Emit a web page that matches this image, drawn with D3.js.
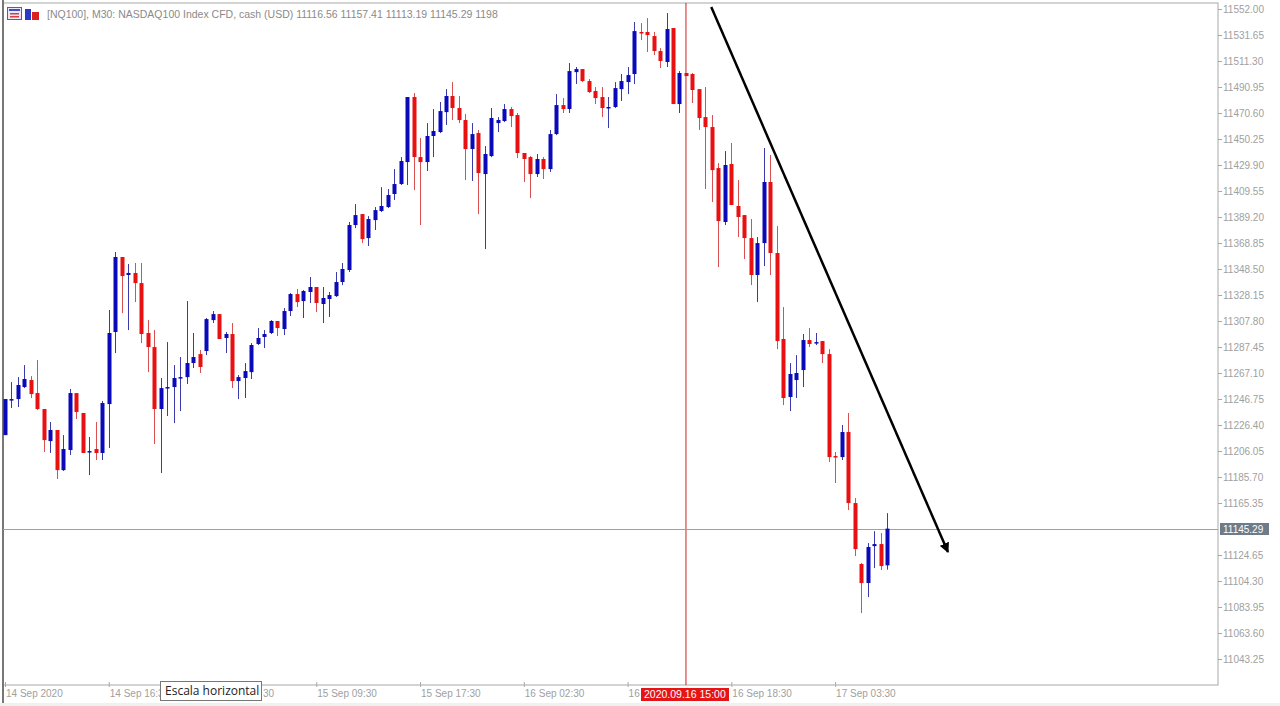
<!DOCTYPE html>
<html>
<head>
<meta charset="utf-8">
<script src="https://cdn.jsdelivr.net/npm/d3@7"></script>
<style>
  body { margin: 0; background: #fff; }
  svg { display: block; font-family: "Liberation Sans", Arial, sans-serif; }
</style>
</head>
<body>
<div id="chart"></div>
<script>
// NQ100 M30 candles (open, high, low, close)
var opens = [11218.5,11245.9,11246.7,11256.1,11261.6,11251.4,11238.9,11213.8,11222.5,11191.1,11206.8,11251.4,11235.8,11205.3,11207.6,11204.5,11242.8,11299.2,11357.9,11343.8,11345.4,11337.5,11298.4,11287.4,11238.9,11255.3,11256.1,11263.2,11263.9,11274.9,11281.9,11284.3,11308.5,11313.2,11294.5,11297.6,11260.8,11263.2,11267.8,11289.8,11295.3,11298.4,11307.8,11301.5,11315.6,11328.9,11323.4,11330.5,11334.4,11321.1,11325.0,11327.3,11338.3,11347.7,11382.9,11391.5,11372.7,11386.8,11393.9,11397.0,11407.2,11415.0,11432.2,11483.1,11436.1,11432.2,11452.6,11455.7,11471.3,11483.9,11474.5,11465.1,11442.4,11454.9,11422.8,11436.9,11462.7,11464.3,11473.7,11469.0,11439.3,11436.1,11422.8,11434.6,11426.7,11454.1,11476.8,11473.7,11502.6,11505.0,11495.6,11487.8,11483.1,11474.5,11475.3,11489.3,11494.8,11501.1,11534.0,11534.0,11530.8,11519.1,11510.5,11537.1,11477.6,11501.9,11501.1,11489.3,11467.4,11459.6,11427.5,11385.3,11430.7,11397.8,11390.7,11372.7,11343.8,11368.8,11416.6,11361.0,11293.7,11248.3,11261.6,11269.4,11292.9,11290.5,11292.1,11281.9,11202.1,11201.3,11220.9,11165.3,11117.6,11102.7,11131.6,11133.2,11116.56];
var highs = [11246.7,11260.0,11263.9,11273.3,11264.7,11277.3,11238.9,11228.7,11222.5,11218.5,11254.6,11251.4,11235.8,11217.0,11228.7,11245.2,11316.4,11361.8,11357.9,11352.4,11353.2,11353.2,11308.5,11300.7,11263.2,11291.3,11273.3,11279.6,11323.4,11298.4,11285.1,11310.1,11315.6,11313.2,11299.2,11306.2,11265.5,11274.9,11290.5,11302.3,11300.7,11308.5,11307.8,11317.9,11329.7,11332.8,11332.0,11342.2,11334.4,11334.4,11330.5,11346.1,11353.2,11385.3,11399.3,11391.5,11389.9,11397.0,11412.6,11411.1,11426.7,11436.1,11483.1,11486.2,11451.0,11462.7,11473.7,11479.2,11489.3,11494.8,11483.9,11469.8,11462.7,11457.3,11444.7,11474.5,11467.4,11477.6,11475.3,11470.6,11439.3,11436.9,11438.5,11436.1,11457.3,11485.4,11482.3,11509.7,11506.6,11505.0,11497.2,11490.9,11490.9,11483.1,11494.8,11501.1,11506.6,11541.8,11541.0,11544.9,11534.0,11521.4,11548.8,11537.1,11503.4,11501.9,11501.9,11489.3,11490.9,11469.0,11431.4,11440.8,11447.1,11418.1,11390.7,11387.6,11373.5,11443.2,11437.7,11382.1,11318.7,11274.9,11281.1,11297.6,11302.3,11298.4,11292.1,11285.8,11205.3,11226.4,11235.8,11169.2,11118.4,11134.0,11143.3,11141.8,11157.41];
var lows = [11218.5,11239.7,11240.5,11255.3,11247.5,11238.1,11205.3,11204.5,11184.1,11190.4,11202.9,11231.1,11204.5,11187.2,11199.0,11199.0,11208.4,11282.7,11314.0,11300.7,11322.6,11290.5,11267.8,11211.5,11188.8,11233.4,11227.9,11237.3,11258.5,11271.0,11267.1,11281.1,11306.2,11293.7,11282.7,11255.3,11246.7,11247.5,11262.4,11289.0,11286.6,11297.6,11296.0,11296.8,11311.7,11318.7,11310.1,11321.9,11314.8,11306.2,11310.9,11326.6,11335.9,11346.1,11380.5,11368.8,11366.5,11379.0,11393.1,11396.2,11402.5,11414.2,11414.2,11410.3,11382.9,11425.2,11436.1,11454.9,11461.2,11465.1,11462.7,11418.1,11417.4,11391.5,11364.1,11436.1,11455.7,11463.5,11459.6,11435.3,11416.6,11404.0,11420.5,11418.9,11424.4,11453.3,11470.6,11470.6,11493.3,11494.8,11486.2,11477.6,11467.4,11458.8,11474.5,11480.0,11485.4,11493.3,11527.7,11518.3,11516.0,11505.8,11506.6,11477.6,11470.6,11499.5,11478.4,11457.3,11411.1,11400.9,11350.0,11382.9,11398.6,11373.5,11356.3,11335.9,11322.6,11350.8,11343.8,11285.8,11242.0,11237.3,11247.5,11256.1,11287.4,11289.0,11274.9,11197.4,11181.0,11199.0,11159.8,11123.8,11079.2,11091.7,11114.4,11112.9,11113.19];
var closes = [11246.7,11246.7,11257.7,11262.4,11250.6,11238.9,11214.6,11222.5,11191.1,11207.6,11251.4,11236.6,11204.5,11206.0,11204.5,11243.6,11298.4,11357.9,11343.0,11345.4,11337.5,11297.6,11287.4,11238.9,11255.3,11256.1,11263.2,11263.9,11274.9,11279.6,11271.8,11309.3,11313.2,11293.7,11297.6,11260.8,11263.9,11268.6,11289.0,11294.5,11297.6,11307.8,11302.3,11315.6,11328.9,11322.6,11331.3,11334.4,11321.9,11325.8,11328.1,11338.3,11348.5,11382.9,11390.7,11371.9,11387.6,11394.6,11397.8,11406.4,11415.0,11433.0,11483.1,11436.1,11432.2,11452.6,11456.5,11472.1,11483.9,11474.5,11465.1,11442.4,11454.1,11423.6,11438.5,11466.7,11465.1,11473.7,11468.2,11439.3,11434.6,11422.8,11434.6,11426.7,11454.1,11476.8,11473.7,11503.4,11505.0,11495.6,11487.0,11482.3,11474.5,11475.3,11490.1,11495.6,11500.3,11534.7,11533.2,11531.6,11519.1,11511.3,11536.3,11477.6,11501.9,11499.5,11488.6,11466.7,11459.6,11425.9,11386.0,11429.9,11398.6,11389.2,11372.7,11343.8,11368.8,11416.6,11361.0,11292.1,11247.5,11266.3,11267.1,11292.9,11289.8,11291.3,11281.9,11201.3,11201.3,11220.9,11165.3,11129.3,11102.7,11130.9,11133.2,11116.0,11145.29];

var priceTicks = [11552.00,11531.65,11511.30,11490.95,11470.60,11450.25,11429.90,11409.55,11389.20,11368.85,11348.50,11328.15,11307.80,11287.45,11267.10,11246.75,11226.40,11206.05,11185.70,11165.35,11124.65,11104.30,11083.95,11063.60,11043.25];
var timeTickBars = [0,16,32,48,64,80,96,112,128];
var timeTickLabels = ["14 Sep 2020","14 Sep 16:30","15 Sep 01:30","15 Sep 09:30","15 Sep 17:30","16 Sep 02:30","16 Sep 10:30","16 Sep 18:30","17 Sep 03:30"];
// parts of labels left visible by the tooltip and the crosshair label
var visibleLabel = {16: "14 Sep 16:3", 32: "30", 96: "16"};

var header = "[NQ100], M30:  NASDAQ100 Index CFD, cash (USD)  11116.56 11157.41 11113.19 11145.29  1198";
var crossBar = 105, crossLabel = "2020.09.16 15:00";
var trendStart = {bar: 108.9, price: 11553.6}, trendEnd = {bar: 145.4, price: 11127};

var width = 1280, height = 706;
var plot = {left: 3, top: 3, right: 1218, bottom: 685};

var candles = opens.map(function(o, i) {
	return {i: i, o: o, h: highs[i], l: lows[i], c: closes[i]};
});

var x = d3.scaleLinear().domain([0, 136]).range([5, 887]);
var y = d3.scaleLinear().domain([11043.25, 11552]).range([659, 9]);

var svg = d3.select("#chart").append("svg")
	.attr("width", width)
	.attr("height", height);

svg.append("rect").attr("width", width).attr("height", height).attr("fill", "#fff");
svg.append("rect").attr("x", 0).attr("y", 703).attr("width", width).attr("height", 3).attr("fill", "#f0f0f0");

svg.append("defs").append("marker")
	.attr("id", "arrow")
	.attr("viewBox", "0 0 10 10")
	.attr("refX", 9).attr("refY", 5)
	.attr("markerWidth", 4).attr("markerHeight", 4)
	.attr("orient", "auto")
	.append("path").attr("d", "M0,0L10,5L0,10z").attr("fill", "#000");

// frame
svg.append("rect")
	.attr("x", plot.left).attr("y", plot.top)
	.attr("width", plot.right - plot.left).attr("height", plot.bottom - plot.top)
	.attr("fill", "none").attr("stroke", "#a8a8a8");
svg.append("line").attr("x1", 3).attr("x2", 3).attr("y1", 0).attr("y2", 703)
	.attr("stroke", "#777").attr("stroke-width", 2);

// price axis
var yAxis = d3.axisRight(y).tickValues(priceTicks).tickSize(4).tickFormat(d3.format(".2f"));
var yg = svg.append("g").attr("transform", "translate(" + plot.right + ",0)").call(yAxis);
yg.select(".domain").remove();
yg.selectAll("line").attr("stroke", "#a8a8a8");
yg.selectAll("text").attr("fill", "#a0a0a0").attr("font-size", 10).attr("x", 5)
	.attr("font-family", "Liberation Sans, Arial, sans-serif");

// time axis
var xg = svg.append("g").attr("transform", "translate(0," + plot.bottom + ")");
timeTickBars.forEach(function(b, k) {
	xg.append("line").attr("x1", x(b) + 0.5).attr("x2", x(b) + 0.5).attr("y1", -3).attr("y2", 2).attr("stroke", "#a8a8a8");
	var shown = visibleLabel[b] !== undefined ? visibleLabel[b] : timeTickLabels[k];
	var tx = b === 32 ? 263 : x(b) + 1;
	xg.append("text").attr("x", tx).attr("y", 12).attr("fill", "#a0a0a0").attr("font-size", 10).text(shown);
});

// crosshair lines
svg.append("line")
	.attr("x1", x(crossBar)).attr("x2", x(crossBar)).attr("y1", plot.top).attr("y2", plot.bottom)
	.attr("stroke", "#d02020").attr("stroke-width", 1);
var lastClose = closes[closes.length - 1];
svg.append("line")
	.attr("x1", plot.left).attr("x2", plot.right).attr("y1", Math.round(y(lastClose)) + 0.5).attr("y2", Math.round(y(lastClose)) + 0.5)
	.attr("stroke", "#a0a0a0");

// candles
var blue = "#0a0ab8", red = "#e81010";
var cg = svg.append("g").selectAll("g").data(candles).enter().append("g");
cg.append("line")
	.attr("x1", function(d) { return Math.round(x(d.i)) + 0.5; })
	.attr("x2", function(d) { return Math.round(x(d.i)) + 0.5; })
	.attr("y1", function(d) { return y(d.h); })
	.attr("y2", function(d) { return y(d.l); })
	.attr("stroke", function(d) { return d.c >= d.o ? "#3a3aa8" : "#d85050"; });
cg.append("rect")
	.attr("x", function(d) { return Math.round(x(d.i)) - 1.5; })
	.attr("width", 4)
	.attr("y", function(d) { return y(Math.max(d.o, d.c)); })
	.attr("height", function(d) { return Math.max(1.5, Math.abs(y(d.o) - y(d.c))); })
	.attr("fill", function(d) { return d.c >= d.o ? blue : red; });

// trend arrow
svg.append("line")
	.attr("x1", x(trendStart.bar)).attr("y1", y(trendStart.price))
	.attr("x2", x(trendEnd.bar)).attr("y2", y(trendEnd.price))
	.attr("stroke", "#000").attr("stroke-width", 2.5)
	.attr("marker-end", "url(#arrow)");

// price label
var py = Math.round(y(lastClose));
svg.append("rect").attr("x", 1220).attr("y", py - 6).attr("width", 49).attr("height", 12).attr("fill", "#6d7c88");
svg.append("text").attr("x", 1223).attr("y", py + 4).attr("fill", "#fff").attr("font-size", 10).text(d3.format(".2f")(lastClose));

// crosshair time label
svg.append("rect").attr("x", 641).attr("y", 688).attr("width", 88).attr("height", 13).attr("fill", "#e61414");
svg.append("text").attr("x", 644).attr("y", 698).attr("fill", "#fff").attr("font-size", 10.5).text(crossLabel);

// tooltip
svg.append("rect").attr("x", 160.5).attr("y", 681.5).attr("width", 101).attr("height", 19)
	.attr("fill", "#fff").attr("stroke", "#777");
svg.append("text").attr("x", 165).attr("y", 695).attr("fill", "#222").attr("font-size", 12)
	.attr("font-family", "Open Sans, sans-serif").text("Escala horizontal");

// header
var ic = svg.append("g");
ic.append("rect").attr("x", 7.5).attr("y", 7.5).attr("width", 14).attr("height", 12).attr("fill", "#e8e8f8").attr("stroke", "#5a5aa8");
ic.append("rect").attr("x", 9).attr("y", 9).attr("width", 11).attr("height", 2).attr("fill", "#4a4ac0");
ic.append("rect").attr("x", 10).attr("y", 13).attr("width", 9).attr("height", 1.5).attr("fill", "#d04040");
ic.append("rect").attr("x", 10).attr("y", 16).attr("width", 9).attr("height", 1.5).attr("fill", "#d04040");
ic.append("rect").attr("x", 25).attr("y", 9).attr("width", 6).attr("height", 11).attr("fill", "#2a3ac8");
ic.append("rect").attr("x", 32).attr("y", 12).attr("width", 7).attr("height", 8).attr("fill", "#d82020");
svg.append("text").attr("x", 47).attr("y", 18).attr("fill", "#8a8a8a").attr("font-size", 10.5).text(header);
</script>
</body>
</html>
